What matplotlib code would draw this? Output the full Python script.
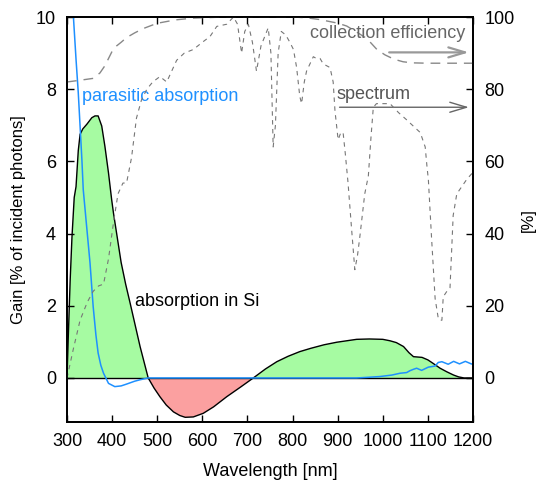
import matplotlib
matplotlib.use("Agg")
import matplotlib.pyplot as plt
import numpy as np
from matplotlib.patches import FancyArrowPatch

plt.rcParams["font.family"] = ["Liberation Sans", "DejaVu Sans"]
plt.rcParams["font.size"] = 13

# absorption in Si, gain [% of incident photons]
wl_si = [300, 303, 307, 311, 316, 320, 325, 329, 335, 344, 355, 362, 369, 377, 384,
         392, 399, 403, 420, 430, 440, 462, 480, 493, 506, 520, 536, 550, 562, 580,
         602, 625, 654, 685, 713, 740, 765, 790, 816, 840, 870, 898, 920, 942, 970,
         1000, 1016, 1030, 1046, 1058, 1068, 1087, 1100, 1112, 1127, 1142, 1157,
         1168, 1180, 1200]
si = [0, 1.2, 2.7, 3.9, 5.0, 5.3, 6.3, 6.75, 6.9, 7.03, 7.21, 7.26, 7.26, 6.98, 6.42,
      5.68, 4.94, 4.57, 3.2, 2.6, 2.07, 0.87, 0, -0.28, -0.52, -0.75, -0.94, -1.04,
      -1.09, -1.08, -0.98, -0.8, -0.52, -0.25, 0, 0.25, 0.45, 0.6, 0.73, 0.82, 0.92,
      0.99, 1.03, 1.07, 1.08, 1.07, 1.03, 0.98, 0.87, 0.7, 0.59, 0.57, 0.5, 0.4,
      0.27, 0.17, 0.08, 0.03, 0, 0]

# parasitic absorption
wl_par = [310, 314, 320, 325, 333, 336, 345, 351, 358, 364, 369, 375, 381, 392, 406,
          420, 432, 450, 462, 480, 600, 800, 900, 942, 970, 994, 1020, 1038, 1053,
          1060, 1068, 1075, 1086, 1101, 1116, 1123, 1131, 1145, 1157, 1170, 1183,
          1196, 1200]
par = [10.9, 10.05, 8.83, 7.9, 6.05, 5.22, 4.0, 3.19, 1.98, 1.2, 0.69, 0.35, 0.13,
       -0.15, -0.24, -0.22, -0.17, -0.09, -0.05, 0, 0, 0, 0, 0, 0.02, 0.04, 0.08,
       0.13, 0.15, 0.2, 0.24, 0.27, 0.21, 0.3, 0.33, 0.43, 0.45, 0.38, 0.46, 0.39,
       0.46, 0.39, 0.38]

# collection efficiency [%]
wl_ce = [300, 330, 358, 373, 384, 392, 400, 410, 420, 432, 450, 469, 490, 506, 540,
         580, 650, 700, 800, 830, 860, 880, 900, 920, 940, 965, 987, 1005, 1025,
         1045, 1065, 1100, 1150, 1200]
ce = [82, 82.5, 83, 84.5, 86.5, 88.5, 90.5, 92, 93, 94.3, 95.6, 96.8, 97.8, 98.4,
      99.2, 99.7, 100, 100, 100, 99.8, 99.3, 98.8, 98.3, 97.5, 96, 94, 91, 89.5,
      88.3, 87.6, 87.3, 87.2, 87.2, 87.2]

# solar spectrum [%]
wl_sp = [300, 314, 329, 345, 358, 370, 381, 392, 403, 413, 424, 432, 443, 454, 465,
         477, 490, 506, 521, 532, 543, 560, 580, 600, 617, 632, 654, 669, 678, 687,
         694, 702, 711, 720, 730, 746, 752, 757, 762, 768, 775, 785, 794, 802, 809,
         816, 820, 826, 831, 846, 853, 861, 868, 883, 890, 894, 901, 907, 912, 917,
         923, 931, 938, 944, 949, 960, 968, 974, 979, 986, 1000, 1016, 1035, 1053,
         1070, 1083, 1094, 1098, 1101, 1108, 1116, 1123, 1127, 1131, 1134, 1142,
         1149, 1156, 1164, 1175, 1186, 1200]
sp = [0, 8, 16, 21, 24, 25.5, 26, 33, 43, 51, 54, 54, 61, 72, 77, 80, 82, 83.5, 82,
      85, 88, 90, 91, 93, 94.6, 97.4, 98, 100, 98, 90, 96, 98, 93, 85, 92, 97, 90,
      64, 70, 90, 96, 95, 93, 91, 86, 78, 76, 82, 85, 89, 88.5, 88.5, 87, 86, 82,
      74, 66, 68, 68, 62, 54, 41, 30, 34, 39, 51, 56, 67, 75, 76, 76, 76, 73.5,
      71.5, 69.5, 68, 64, 58.5, 55, 39, 22, 16.5, 16, 16, 22.5, 24, 25, 45, 51, 53,
      55, 57]

fig = plt.figure(figsize=(5.36, 4.86), dpi=100)
ax = fig.add_axes([0.125, 0.1317, 0.7575, 0.8333])
ax2 = ax.twinx()

x = np.array(wl_si)
y = np.array(si)
ax.fill_between(x, y, 0, where=y >= 0, interpolate=True, color="#a6fba2", lw=0)
ax.fill_between(x, y, 0, where=y <= 0, interpolate=True, color="#fba0a0", lw=0)
ax.axhline(0, color="black", lw=1)
ax.plot(x, y, color="black", lw=1)
ax.plot(wl_par, par, color="#1e90ff", lw=1.1)

ax2.plot(wl_ce, ce, color="#888888", lw=1, dashes=(7, 5))
ax2.plot(wl_sp, sp, color="#777777", lw=0.8, dashes=(4, 4))

ax.set_xlim(300, 1200)
ax.set_ylim(-1.22, 10)
ax2.set_ylim(-12.2, 100)
ax.set_xticks(range(300, 1201, 100))
ax.set_yticks(range(0, 11, 2))
ax2.set_yticks(range(0, 101, 20))
ax.tick_params(direction="in", top=True, length=5, width=1, pad=8)
ax2.tick_params(direction="in", length=5, width=1, pad=8)
for a in (ax, ax2):
    for s in a.spines.values():
        s.set_linewidth(1.3)

ax.set_xlabel("Wavelength [nm]", labelpad=9)
ax.set_ylabel("Gain [% of incident photons]", fontsize=12)
ax.yaxis.set_label_coords(-0.10, 0.5)
fig.text(528 / 536, 1 - 220 / 486, "[%]", rotation=90, ha="center", va="center",
         fontsize=12)

ax.text(333, 7.81, "parasitic absorption", color="#1e90ff", va="center")
ax.text(451, 2.12, "absorption in Si", color="black", va="center")
ax2.text(1182, 95.5, "collection efficiency", color="#666666", ha="right", va="center")
ax2.text(898, 78.5, "spectrum", color="#555555", va="center")

ax2.add_patch(FancyArrowPatch((1008, 90.2), (1197, 90.2),
                              arrowstyle="->,head_length=1.2,head_width=0.36",
                              mutation_scale=10, color="#999999", lw=1.6))
ax2.add_patch(FancyArrowPatch((898, 75), (1197, 75),
                              arrowstyle="->,head_length=1.2,head_width=0.36",
                              mutation_scale=10, color="#666666", lw=1))

fig.savefig("out.png", dpi=100)
